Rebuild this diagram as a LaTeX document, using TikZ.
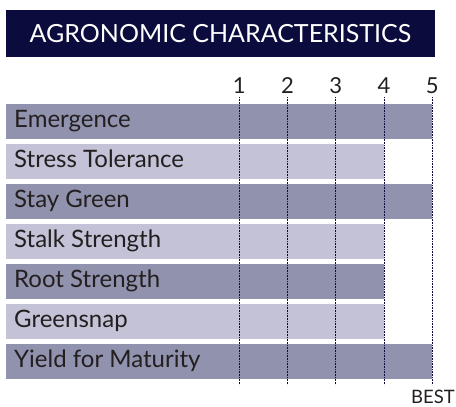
\documentclass[tikz,border=0pt]{standalone}
\usepackage{fontspec}
\setmainfont{Lato}
\usetikzlibrary{positioning}
\definecolor{navy}{HTML}{0B0B3D}
\definecolor{bardark}{HTML}{9192AD}
\definecolor{barlight}{HTML}{C3C2D6}
\definecolor{inkgray}{HTML}{231F20}
\tikzset{
  headbox/.style={fill=navy, text=white, inner sep=0pt, minimum width=429pt, minimum height=47pt, font=\fontsize{25}{25}\selectfont},
  rowlabel/.style={anchor=base west, inner sep=0pt, text=inkgray, font=\fontsize{24}{24}\selectfont},
  scalenum/.style={anchor=base, inner sep=0pt, text=inkgray, font=\fontsize{22}{22}\selectfont},
  scaleline/.style={navy, line width=0.8pt, dash pattern=on 0.8pt off 0.8pt},
}
\begin{document}
\begin{tikzpicture}[x=1pt, y=-1pt]
\useasboundingbox (0,0) rectangle (456,407);
% title
\node[headbox] (head) at (220.5,33.5) {AGRONOMIC CHARACTERISTICS};
% rows: label / score / colour
\foreach \name/\len/\col [count=\i] in {Emergence/5/bardark, Stress Tolerance/4/barlight, Stay Green/5/bardark, Stalk Strength/4/barlight, Root Strength/4/bardark, Greensnap/4/barlight, Yield for Maturity/5/bardark}{
  \fill[\col] (6,{104+40*(\i-1)}) rectangle ({239.3+48.25*(\len-1)},{138.5+40*(\i-1)});
  \node[rowlabel] (row\i) at (14,{127.5+40*(\i-1)}) {\name};
}
% scale
\foreach \k in {1,...,5}{
  \node[scalenum] (n\k) at ({239.3+48.25*(\k-1)},93) {\k};
  \coordinate (e\k) at ({239.3+48.25*(\k-1)},385);
  \draw[scaleline] (n\k.south |- 0,97) -- (e\k);
}
\node[scalenum, anchor=base east] (best) at (455,403) {\fontsize{18.5}{18.5}\selectfont BEST};
\end{tikzpicture}
\end{document}
